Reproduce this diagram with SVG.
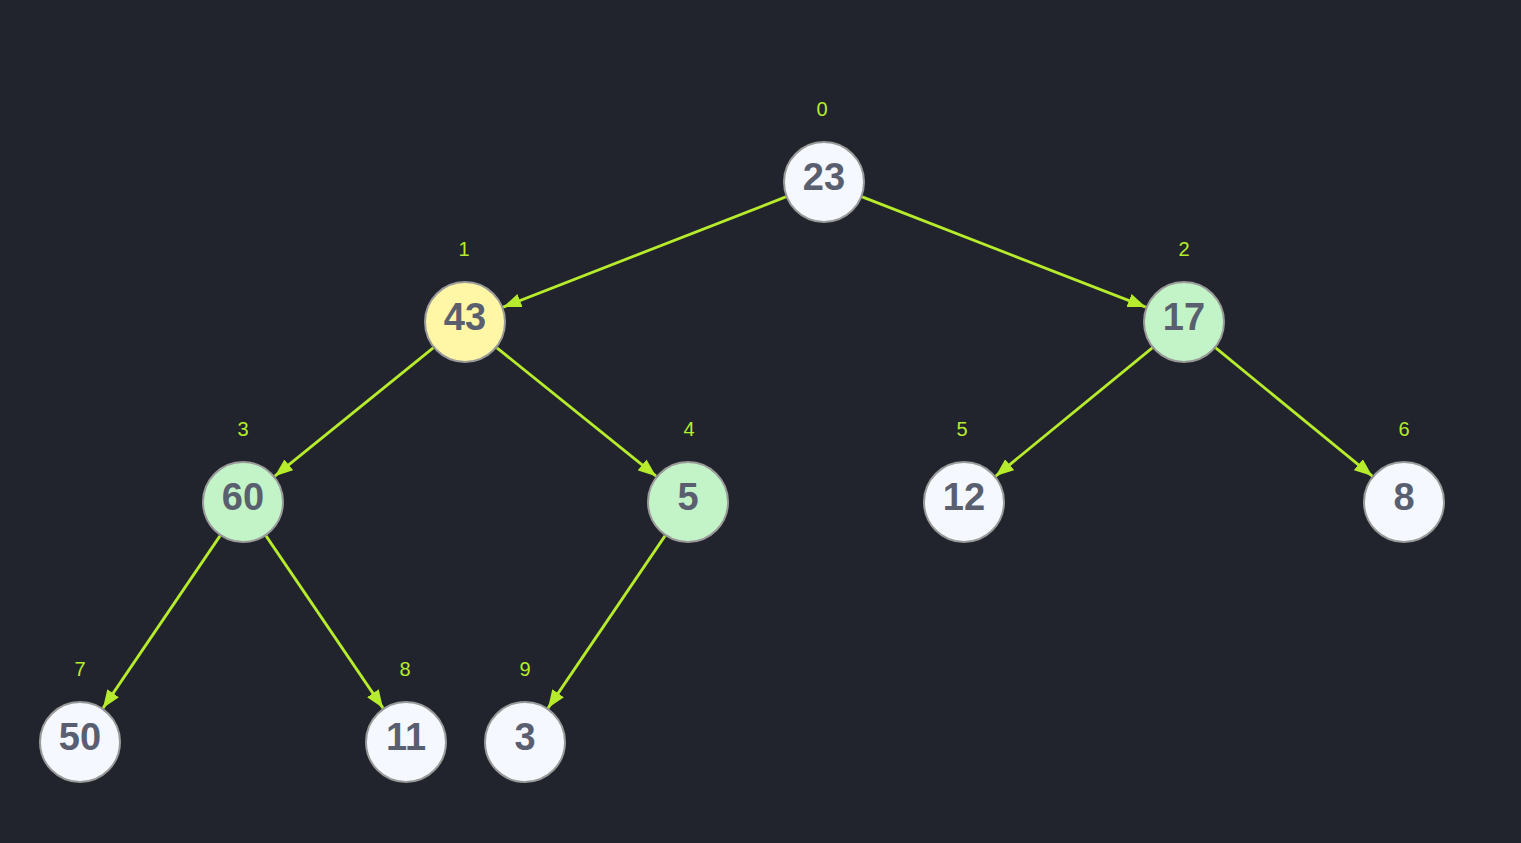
<svg xmlns="http://www.w3.org/2000/svg" width="1521" height="843" viewBox="0 0 1521 843">
<style>
.n{stroke:#9a9a9a;stroke-width:2;fill:#f5f9ff}
.y{fill:#fff7a6}
.g{fill:#c3f4c8}
.t{font-family:"Liberation Sans",Arial,sans-serif;font-weight:bold;font-size:38px;fill:#5a5f70;text-anchor:middle}
.i{font-family:"Liberation Sans",Arial,sans-serif;font-size:20px;fill:#b6ec2b;text-anchor:middle}
.e{stroke:#b6ec2b;stroke-width:2.8;fill:none;marker-end:url(#ah)}
</style>
<defs>
<marker id="ah" markerUnits="userSpaceOnUse" markerWidth="20" markerHeight="16" viewBox="0 0 20 16" refX="18" refY="8" orient="auto">
<path d="M0,1 L18,8 L0,15 Z" fill="#b6ec2b"/>
</marker>
</defs>
<rect width="1521" height="843" fill="#21242c"/>
<g id="edges">
<line class="e" x1="785.8" y1="196.9" x2="503.2" y2="307.1"/>
<line class="e" x1="862.2" y1="196.9" x2="1145.8" y2="307.1"/>
<line class="e" x1="433.2" y1="347.8" x2="274.8" y2="476.2"/>
<line class="e" x1="496.9" y1="347.8" x2="656.1" y2="476.2"/>
<line class="e" x1="1152.3" y1="347.9" x2="995.7" y2="476.1"/>
<line class="e" x1="1215.7" y1="347.9" x2="1372.3" y2="476.1"/>
<line class="e" x1="220" y1="535.9" x2="103" y2="708.1"/>
<line class="e" x1="266" y1="535.9" x2="383" y2="708.1"/>
<line class="e" x1="665" y1="535.9" x2="548" y2="708.1"/>
</g>
<g id="node0"><text class="i" x="822" y="116">0</text><circle class="n" cx="824" cy="182" r="40"/><text class="t" x="824" y="190">23</text></g>
<g id="node1"><text class="i" x="464" y="256">1</text><circle class="n y" cx="465" cy="322" r="40"/><text class="t" x="465" y="330">43</text></g>
<g id="node2"><text class="i" x="1184" y="256">2</text><circle class="n g" cx="1184" cy="322" r="40"/><text class="t" x="1184" y="330">17</text></g>
<g id="node3"><text class="i" x="243" y="436">3</text><circle class="n g" cx="243" cy="502" r="40"/><text class="t" x="243" y="510">60</text></g>
<g id="node4"><text class="i" x="689" y="436">4</text><circle class="n g" cx="688" cy="502" r="40"/><text class="t" x="688" y="510">5</text></g>
<g id="node5"><text class="i" x="962" y="436">5</text><circle class="n" cx="964" cy="502" r="40"/><text class="t" x="964" y="510">12</text></g>
<g id="node6"><text class="i" x="1404" y="436">6</text><circle class="n" cx="1404" cy="502" r="40"/><text class="t" x="1404" y="510">8</text></g>
<g id="node7"><text class="i" x="80" y="676">7</text><circle class="n" cx="80" cy="742" r="40"/><text class="t" x="80" y="750">50</text></g>
<g id="node8"><text class="i" x="405" y="676">8</text><circle class="n" cx="406" cy="742" r="40"/><text class="t" x="406" y="750">11</text></g>
<g id="node9"><text class="i" x="525" y="676">9</text><circle class="n" cx="525" cy="742" r="40"/><text class="t" x="525" y="750">3</text></g>
</svg>
